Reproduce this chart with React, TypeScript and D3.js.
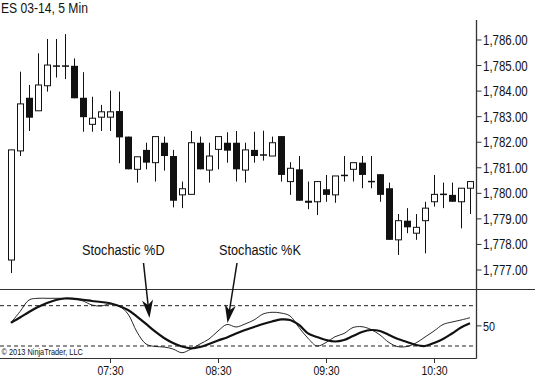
import React from "react";
import * as d3 from "d3";

const TITLE = "ES 03-14, 5 Min";
const START_TIME = "06:35";
const BAR_MINUTES = 5;

const opens = [1777.39, 1781.66, 1783.74, 1783.23, 1784.21, 1784.98, 1784.98, 1784.99, 1783.74, 1782.70, 1782.98, 1782.98, 1783.22, 1782.22, 1780.94, 1781.70, 1781.20, 1781.98, 1781.46, 1779.94, 1779.96, 1781.98, 1780.91, 1781.72, 1781.98, 1781.98, 1780.91, 1781.70, 1781.50, 1781.46, 1782.24, 1780.46, 1780.94, 1779.71, 1779.67, 1780.16, 1779.94, 1780.70, 1780.94, 1781.20, 1780.46, 1780.75, 1780.20, 1778.18, 1778.93, 1778.44, 1778.93, 1779.67, 1779.96, 1779.94, 1779.67, 1780.20];
const highs = [1781.70, 1784.76, 1784.24, 1785.48, 1786.04, 1786.04, 1786.23, 1785.28, 1784.74, 1783.78, 1783.46, 1784.02, 1783.98, 1782.22, 1781.43, 1781.98, 1782.22, 1782.22, 1781.70, 1780.46, 1782.44, 1782.22, 1781.98, 1782.22, 1782.39, 1782.44, 1781.98, 1782.41, 1782.45, 1782.22, 1782.24, 1781.22, 1781.46, 1780.46, 1780.46, 1780.72, 1780.68, 1781.46, 1781.20, 1781.46, 1781.46, 1780.75, 1780.42, 1779.19, 1779.42, 1779.19, 1779.67, 1780.72, 1780.42, 1780.42, 1780.20, 1780.46];
const lows = [1776.88, 1781.46, 1782.44, 1783.23, 1783.98, 1784.53, 1784.47, 1783.72, 1782.41, 1782.41, 1782.44, 1782.44, 1781.18, 1780.94, 1780.42, 1780.94, 1780.46, 1780.89, 1779.45, 1779.42, 1779.96, 1780.94, 1780.42, 1780.94, 1781.20, 1780.46, 1780.42, 1781.20, 1781.28, 1781.46, 1780.46, 1779.94, 1779.71, 1779.38, 1779.15, 1779.67, 1779.63, 1780.46, 1780.46, 1780.20, 1780.20, 1779.67, 1778.18, 1777.59, 1778.44, 1778.18, 1777.65, 1779.48, 1779.42, 1779.67, 1778.63, 1779.19];
const closes = [1781.70, 1783.50, 1782.96, 1784.24, 1785.02, 1784.98, 1784.98, 1783.72, 1782.98, 1782.94, 1783.19, 1783.19, 1782.19, 1780.94, 1781.43, 1781.20, 1782.22, 1781.46, 1779.71, 1780.18, 1781.98, 1780.94, 1781.46, 1782.22, 1781.67, 1780.94, 1781.70, 1781.46, 1781.50, 1781.98, 1780.72, 1780.98, 1779.71, 1779.63, 1780.46, 1779.94, 1780.68, 1780.70, 1781.20, 1780.72, 1780.46, 1779.94, 1778.18, 1778.93, 1778.67, 1778.67, 1779.42, 1779.96, 1779.96, 1779.67, 1780.20, 1780.46];

const stochK = [54.7, 71.2, 88.5, 91.0, 91.0, 91.0, 91.0, 90.0, 87.0, 81.0, 79.6, 82.5, 79.6, 67.6, 40.8, 23.0, 19.3, 18.5, 15.5, 10.0, 15.5, 23.0, 30.4, 42.3, 52.0, 48.3, 52.8, 58.7, 67.6, 70.2, 69.1, 64.7, 47.5, 31.5, 20.0, 25.2, 33.8, 38.6, 47.5, 48.7, 44.6, 36.4, 25.2, 19.0, 19.3, 24.5, 33.4, 42.3, 52.0, 55.7, 58.7, 62.1];
const stochD = [54.7, 62.4, 70.6, 78.1, 84.0, 88.5, 90.7, 90.3, 88.9, 87.0, 85.5, 83.6, 79.6, 73.6, 63.9, 52.8, 41.6, 31.9, 24.5, 19.3, 16.6, 18.5, 23.0, 28.2, 32.7, 38.6, 43.8, 48.3, 52.8, 56.5, 59.5, 58.7, 51.3, 38.9, 33.4, 28.9, 26.7, 28.9, 34.9, 40.8, 43.8, 42.3, 36.4, 30.4, 26.0, 21.5, 20.0, 24.5, 30.4, 38.6, 47.5, 53.8];

const priceTicks = [1786, 1785, 1784, 1783, 1782, 1781, 1780, 1779, 1778, 1777];
const timeTicks = ["07:30", "08:30", "09:30", "10:30"];
const oscLevels = [80, 20];
const oscTick = [50];

const FONT = "'Liberation Sans', Arial, sans-serif";
const NARROW = 0.82;

function parseHM(s: string) {
  const [h, m] = s.split(":").map(Number);
  return h * 60 + m;
}

function NText(props: any) {
  const { x, y, children, ...rest } = props;
  return (
    <text transform={`translate(${x},${y}) scale(${NARROW},1)`} {...rest}>
      {children}
    </text>
  );
}

export default function App() {
  const W = 535, H = 376;
  const axisX = 476.5;
  const n = opens.length;
  const startMin = parseHM(START_TIME);
  const x = d3.scaleLinear().domain([startMin, startMin + (n - 1) * BAR_MINUTES]).range([11, 470]);
  const bx = (i: number) => Math.round(x(startMin + i * BAR_MINUTES));
  const y = d3.scaleLinear().domain([1777, 1786]).range([270, 40]);
  const yo = d3.scaleLinear().domain([20, 80]).range([346, 305.7]);
  const fmt = d3.format(",.2f");

  const lineGen = d3
    .line<number>()
    .x((_, i) => bx(i))
    .y((v) => yo(v))
    .curve(d3.curveCatmullRom.alpha(0.5));

  const arrowHead = (x1: number, y1: number, x2: number, y2: number) => {
    const dx = x2 - x1, dy = y2 - y1;
    const L = Math.hypot(dx, dy);
    const ux = dx / L, uy = dy / L;
    const px = -uy, py = ux;
    const len = 18, half = 5.5, notch = 5;
    const bxp = x2 - ux * len, byp = y2 - uy * len;
    const nx = x2 - ux * (len - notch), ny = y2 - uy * (len - notch);
    return `M${x2},${y2} L${bxp + px * half},${byp + py * half} L${nx},${ny} L${bxp - px * half},${byp - py * half} Z`;
  };

  const arrows = [
    { label: "Stochastic %D", tx: 82, x1: 143.5, y1: 263, x2: 149.5, y2: 318 },
    { label: "Stochastic %K", tx: 219, x1: 237, y1: 263, x2: 227.5, y2: 323 },
  ];

  return (
    <svg width={W} height={H} style={{ position: "absolute", left: 0, top: 0, background: "#fff" }} fontFamily={FONT}>
      <rect x={0} y={0} width={W} height={H} fill="#fff" />
      <NText x={1} y={13} fontSize={14.8} fill="#111">{TITLE}</NText>

      {/* axes frame */}
      <line x1={axisX} x2={axisX} y1={20} y2={358.5} stroke="#333" strokeWidth={1.3} />
      <line x1={0} x2={W} y1={289.5} y2={289.5} stroke="#333" strokeWidth={1.2} />
      <line x1={0} x2={axisX} y1={358.5} y2={358.5} stroke="#333" strokeWidth={1.2} />

      {priceTicks.map((p) => (
        <g key={p}>
          <line x1={axisX} x2={axisX + 5} y1={y(p)} y2={y(p)} stroke="#333" />
          <NText x={483} y={y(p)} dy="0.36em" fontSize={14} fill="#111">{fmt(p)}</NText>
        </g>
      ))}

      {/* candles */}
      {opens.map((o, i) => {
        const c = closes[i];
        const cx = bx(i) + 0.5;
        const top = y(Math.max(o, c));
        const bot = y(Math.min(o, c));
        const up = c >= o;
        const h = bot - top;
        return (
          <g key={i}>
            <line x1={cx} x2={cx} y1={y(highs[i])} y2={y(lows[i])} stroke="#111" strokeWidth={1} />
            {h < 1.5 ? (
              <line x1={cx - 3.5} x2={cx + 3.5} y1={top} y2={top} stroke="#111" strokeWidth={1.5} />
            ) : up ? (
              <rect x={cx - 3} y={top} width={6} height={h} fill="#fff" stroke="#111" strokeWidth={1} />
            ) : (
              <rect x={cx - 3.5} y={top} width={7} height={h} fill="#111" />
            )}
          </g>
        );
      })}

      {/* oscillator */}
      {oscLevels.map((v) => (
        <line key={v} x1={0} x2={axisX} y1={yo(v)} y2={yo(v)} stroke="#222" strokeWidth={1} strokeDasharray="4,3" />
      ))}
      {oscTick.map((v) => (
        <g key={v}>
          <line x1={axisX} x2={axisX + 5} y1={yo(v)} y2={yo(v)} stroke="#333" />
          <NText x={483} y={yo(v)} dy="0.36em" fontSize={13.2} fill="#111">{v}</NText>
        </g>
      ))}
      <path d={lineGen(stochK) || ""} fill="none" stroke="#111" strokeWidth={0.9} />
      <path d={lineGen(stochD) || ""} fill="none" stroke="#111" strokeWidth={2.2} />

      <NText x={1.5} y={355} fontSize={9} fill="#111">© 2013 NinjaTrader, LLC</NText>

      {timeTicks.map((t) => {
        const tx = x(parseHM(t)) + 0.5;
        return (
          <g key={t}>
            <line x1={tx} x2={tx} y1={358.5} y2={363} stroke="#333" />
            <NText x={tx} y={375} textAnchor="middle" fontSize={12.8} fill="#111">{t}</NText>
          </g>
        );
      })}

      {arrows.map((a) => (
        <g key={a.label}>
          <NText x={a.tx} y={255} fontSize={15.5} fill="#111">{a.label}</NText>
          <line x1={a.x1} y1={a.y1} x2={a.x1 + (a.x2 - a.x1) * 0.8} y2={a.y1 + (a.y2 - a.y1) * 0.8} stroke="#111" strokeWidth={1.5} />
          <path d={arrowHead(a.x1, a.y1, a.x2, a.y2)} fill="#111" />
        </g>
      ))}
    </svg>
  );
}
